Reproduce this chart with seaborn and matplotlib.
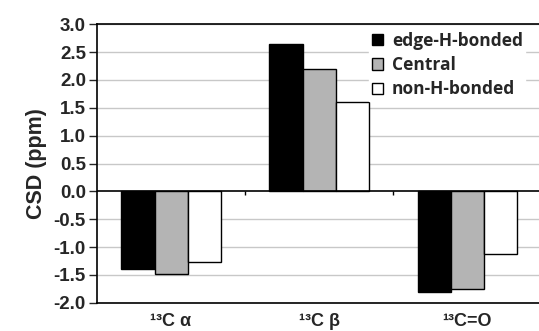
import matplotlib
matplotlib.use("Agg")
import matplotlib.pyplot as plt
import seaborn as sns
import pandas as pd

categories = ["¹³C α", "¹³C β", "¹³C=O"]
series = ["edge-H-bonded", "Central", "non-H-bonded"]
edge_vals = [-1.40, 2.65, -1.81]
central_vals = [-1.48, 2.19, -1.76]
non_vals = [-1.26, 1.60, -1.12]
colors = ["#000000", "#b4b4b4", "#ffffff"]
yticks = [3.0, 2.5, 2.0, 1.5, 1.0, 0.5, 0.0, -0.5, -1.0, -1.5, -2.0]

rows = []
for s, vals in zip(series, [edge_vals, central_vals, non_vals]):
    for c, v in zip(categories, vals):
        rows.append({"cat": c, "series": s, "val": v})
df = pd.DataFrame(rows)

sns.set_style("white")
plt.rcParams["font.family"] = ["Liberation Sans", "DejaVu Sans"]

fig = plt.figure(figsize=(5.39, 3.31), dpi=100)
ax = fig.add_axes([0.18, 0.085, 0.824, 0.842])

sns.barplot(data=df, x="cat", y="val", hue="series", palette=colors,
            order=categories, hue_order=series, width=0.67,
            edgecolor="black", linewidth=1.0, ax=ax, zorder=3, saturation=1)

ax.set_ylim(-2.0, 3.0)
ax.set_xlim(-0.5, 2.5)
ax.set_yticks(yticks)
ax.set_yticklabels([f"{t:.1f}" for t in yticks], fontsize=13.5, fontweight="bold")
for t in yticks:
    if t != 0.0:
        ax.axhline(t, color="#c8c8c8", linewidth=1.0, zorder=1)
ax.axhline(0.0, color="black", linewidth=1.2, zorder=4)
ax.vlines([0.5, 1.5], -0.07, 0.0, color="black", linewidth=1.0, zorder=4)

ax.set_xlabel("")
ax.set_ylabel("CSD (ppm)", fontsize=15.5, fontweight="bold", labelpad=5)
ax.tick_params(axis="x", length=0, pad=7)
for lab in ax.get_xticklabels():
    lab.set_fontsize(13)
    lab.set_fontweight("bold")
ax.tick_params(axis="y", length=6, width=1, direction="out", left=True, pad=2)

for side in ["left", "top", "bottom"]:
    ax.spines[side].set_visible(True)
    ax.spines[side].set_color("black")
    ax.spines[side].set_linewidth(1.2)
    ax.spines[side].set_zorder(7)
ax.spines["right"].set_visible(False)

leg = ax.legend(loc="upper right", bbox_to_anchor=(0.984, 1.014), frameon=True,
                fancybox=False, edgecolor="white", facecolor="white", framealpha=1,
                handlelength=0.65, handleheight=0.65, handletextpad=0.5,
                labelspacing=0.37, borderpad=0.15,
                prop={"weight": "bold", "size": 12.5, "family": ["Open Sans", "DejaVu Sans"]})
leg.set_zorder(5)

fig.savefig("out.png", dpi=100)
